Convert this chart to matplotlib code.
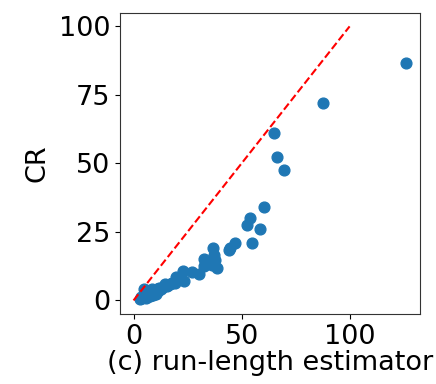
import matplotlib
matplotlib.use("Agg")
import matplotlib.pyplot as plt

# run-length estimator vs CR
estimator = [126.2, 87.5, 64.8, 66.5, 69.8, 60.5, 53.7, 52.5, 58.6, 54.8,
             47.1, 44.8, 44.4, 36.9, 37.3, 37.5, 38.6, 36.5, 32.7, 33.6,
             32.4, 30.4, 27.0, 23.1, 23.5, 22.0, 19.8, 19.3, 17.0, 15.4,
             14.7, 13.5, 12.5, 12.0, 11.5, 11.0, 10.5, 10.0, 9.5, 9.0,
             8.5, 8.0, 8.0, 7.0, 7.0, 6.5, 6.0, 5.5, 5.0, 5.0,
             4.5, 4.0, 3.5, 3.0, 6.0, 7.5, 9.0, 10.5, 16.0, 18.0]
cr = [86.5, 72.1, 61.0, 52.5, 47.6, 34.1, 30.1, 27.4, 26.1, 20.9,
      20.9, 19.2, 18.4, 19.2, 16.5, 14.6, 11.8, 13.0, 15.0, 13.4,
      12.6, 9.8, 10.4, 10.7, 7.1, 8.0, 8.7, 6.3, 6.0, 5.1,
      5.9, 5.0, 4.0, 4.5, 3.5, 4.0, 3.0, 3.8, 2.5, 3.2,
      4.0, 2.0, 3.0, 1.5, 2.5, 2.0, 3.5, 3.0, 4.0, 2.0,
      1.5, 1.0, 1.2, 0.5, 1.0, 1.5, 2.0, 2.5, 5.5, 6.2]
ref_line = [0, 100]

fig = plt.figure(figsize=(4.36, 3.84), dpi=100)
ax = fig.add_axes([0.275, 0.182, 0.688, 0.785])

ax.scatter(estimator, cr, s=60, color="#1f77b4", zorder=2)
ax.plot(ref_line, ref_line, "--", color="red", linewidth=1.5, zorder=3)

ax.set_xticks([0, 50, 100])
ax.set_yticks([0, 25, 50, 75, 100])
ax.tick_params(labelsize=19.5)
ax.set_xlabel("(c) run-length estimator", fontsize=19.5, labelpad=0)
ax.set_ylabel("CR", fontsize=19.5, labelpad=6)
for s in ax.spines.values():
    s.set_color("#333333")

fig.savefig("out.png", dpi=100)
